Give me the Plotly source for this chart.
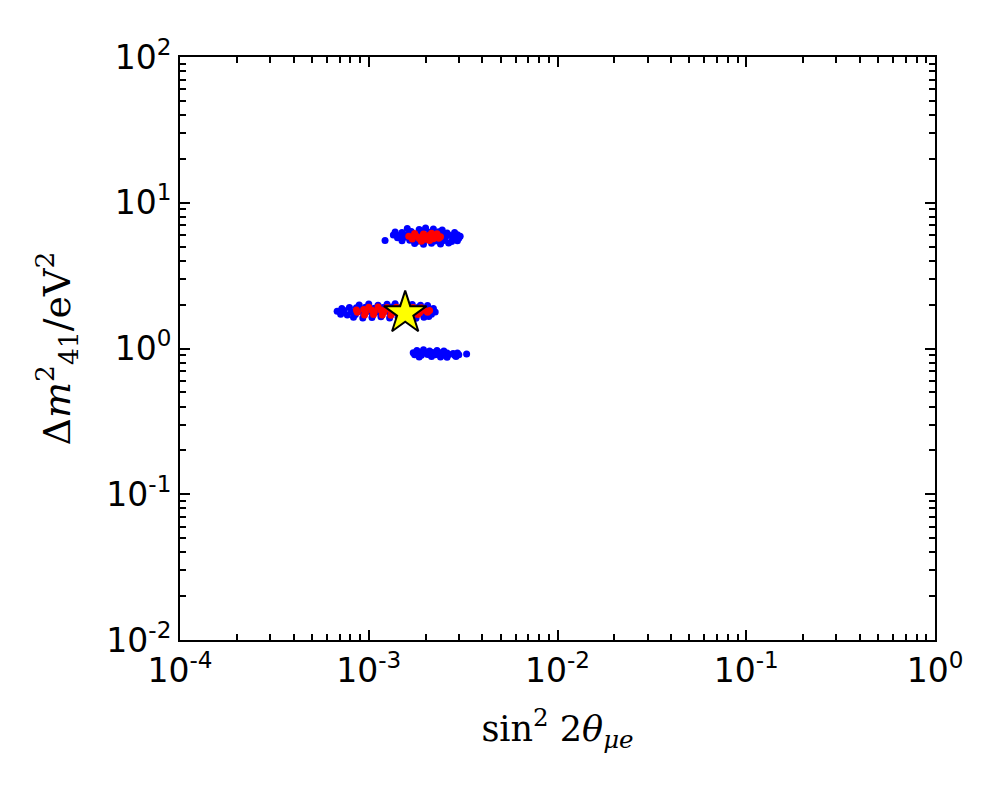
import plotly.graph_objects as go

# sin^2 2theta_mue / dm41^2 scan points
BLUE_X = [
    # band around 1.8 eV^2
    8.9e-4, 1.0e-3, 1.12e-3, 1.25e-3, 1.38e-3, 1.52e-3, 1.7e-3, 1.88e-3, 2.05e-3,
    7.2e-4, 7.9e-4, 8.6e-4, 9.6e-4, 1.07e-3, 1.19e-3, 1.33e-3, 1.47e-3, 1.64e-3, 1.83e-3, 2.02e-3, 2.2e-3,
    6.8e-4, 7.4e-4, 8.1e-4, 9.0e-4, 1.0e-3, 1.11e-3, 1.23e-3, 1.37e-3, 1.55e-3, 1.72e-3, 1.95e-3, 2.17e-3, 2.25e-3,
    7.1e-4, 7.7e-4, 8.5e-4, 9.4e-4, 1.05e-3, 1.17e-3, 1.3e-3, 1.45e-3, 1.61e-3, 1.79e-3, 1.98e-3, 2.15e-3,
    8.3e-4, 9.3e-4, 1.04e-3, 1.16e-3, 1.29e-3, 1.43e-3, 1.6e-3, 1.78e-3, 1.96e-3, 2.08e-3,
    # band around 5.8 eV^2
    1.6e-3, 1.85e-3, 2.0e-3, 2.2e-3, 2.45e-3,
    1.38e-3, 1.5e-3, 1.68e-3, 1.9e-3, 2.1e-3, 2.35e-3, 2.6e-3, 2.85e-3,
    1.35e-3, 1.45e-3, 1.6e-3, 1.78e-3, 2.0e-3, 2.2e-3, 2.45e-3, 2.7e-3, 2.95e-3, 3.05e-3,
    1.42e-3, 1.55e-3, 1.7e-3, 1.88e-3, 2.1e-3, 2.3e-3, 2.55e-3, 2.8e-3, 3.0e-3,
    1.22e-3, 1.5e-3, 1.65e-3, 1.82e-3, 2.0e-3, 2.25e-3, 2.5e-3, 2.75e-3, 2.95e-3,
    1.75e-3, 1.95e-3, 2.15e-3, 2.4e-3, 2.65e-3,
    # band around 0.9 eV^2
    1.8e-3, 1.95e-3, 2.1e-3, 2.3e-3, 2.5e-3,
    1.72e-3, 1.85e-3, 2.0e-3, 2.18e-3, 2.38e-3, 2.6e-3, 2.8e-3, 2.95e-3,
    1.75e-3, 1.9e-3, 2.05e-3, 2.25e-3, 2.45e-3, 2.65e-3, 2.85e-3, 3.0e-3, 3.3e-3,
    1.85e-3, 2.15e-3, 2.4e-3, 2.6e-3, 2.9e-3,
]
BLUE_Y = [
    1.99, 2.02, 1.98, 2.01, 2.03, 1.99, 2.00, 1.98, 1.97,
    1.88, 1.91, 1.90, 1.92, 1.89, 1.91, 1.93, 1.90, 1.89, 1.92, 1.90, 1.88,
    1.80, 1.82, 1.79, 1.81, 1.80, 1.78, 1.81, 1.79, 1.82, 1.80, 1.81, 1.79, 1.78,
    1.72, 1.70, 1.71, 1.73, 1.69, 1.71, 1.70, 1.72, 1.69, 1.71, 1.70, 1.72,
    1.64, 1.62, 1.63, 1.65, 1.62, 1.64, 1.63, 1.61, 1.64, 1.66,
    6.65, 6.55, 6.70, 6.60, 6.50,
    6.30, 6.25, 6.35, 6.40, 6.28, 6.32, 6.20, 6.25,
    6.00, 5.95, 6.05, 6.02, 5.98, 6.08, 6.00, 5.95, 6.02, 5.90,
    5.75, 5.80, 5.72, 5.78, 5.70, 5.76, 5.82, 5.74, 5.70,
    5.50, 5.48, 5.52, 5.45, 5.55, 5.47, 5.50, 5.42, 5.48,
    5.25, 5.20, 5.28, 5.22, 5.30,
    0.97, 0.98, 0.96, 0.97, 0.96,
    0.935, 0.94, 0.93, 0.94, 0.935, 0.93, 0.925, 0.93,
    0.905, 0.90, 0.91, 0.905, 0.90, 0.91, 0.90, 0.905, 0.915,
    0.875, 0.88, 0.875, 0.87, 0.88,
]

RED_X = [
    # around 1.8 eV^2
    1.0e-3, 1.12e-3, 1.25e-3, 1.4e-3, 1.56e-3, 1.72e-3, 1.9e-3,
    8.6e-4, 9.4e-4, 1.04e-3, 1.16e-3, 1.29e-3, 1.44e-3, 1.6e-3, 1.78e-3, 1.97e-3, 2.1e-3,
    8.7e-4, 9.6e-4, 1.07e-3, 1.2e-3, 1.34e-3, 1.5e-3, 1.68e-3, 1.86e-3, 2.05e-3,
    9.5e-4, 1.06e-3, 1.18e-3, 1.31e-3, 1.46e-3, 1.63e-3, 1.82e-3,
    # around 5.8 eV^2
    1.75e-3, 1.95e-3, 2.15e-3, 2.3e-3,
    1.63e-3, 1.78e-3, 1.92e-3, 2.08e-3, 2.25e-3, 2.4e-3,
    1.7e-3, 1.85e-3, 2.0e-3, 2.2e-3, 2.35e-3,
    1.9e-3, 2.1e-3,
]
RED_Y = [
    1.92, 1.93, 1.91, 1.92, 1.90, 1.91, 1.90,
    1.84, 1.85, 1.83, 1.84, 1.85, 1.83, 1.84, 1.85, 1.83, 1.82,
    1.77, 1.76, 1.78, 1.77, 1.76, 1.77, 1.78, 1.76, 1.77,
    1.70, 1.71, 1.70, 1.69, 1.71, 1.70, 1.71,
    6.15, 6.10, 6.18, 6.12,
    5.90, 5.92, 5.88, 5.95, 5.90, 5.85,
    5.65, 5.68, 5.62, 5.66, 5.70,
    5.45, 5.50,
]

BEST_FIT_X = [1.56e-3]
BEST_FIT_Y = [1.75]

X_TICKS = [1e-4, 1e-3, 1e-2, 1e-1, 1]
X_TICKTEXT = ["10<sup>-4</sup>", "10<sup>-3</sup>", "10<sup>-2</sup>", "10<sup>-1</sup>", "10<sup>0</sup>"]
Y_TICKS = [1e-2, 1e-1, 1, 10, 100]
Y_TICKTEXT = ["10<sup>-2</sup>", "10<sup>-1</sup>", "10<sup>0</sup>", "10<sup>1</sup>", "10<sup>2</sup>"]

TICK_FONT = dict(family="DejaVu Sans", size=33, color="black")
X_TITLE_FONT = dict(family="DejaVu Serif", size=35, color="black")
Y_TITLE_FONT = dict(family="DejaVu Serif", size=38, color="black")


def minor_ticks(decades, subs):
    return [m * 10 ** d for d in decades for m in subs]


WHOLE_SUBS = [2, 3, 4, 5, 6, 7, 8, 9]
HALF_SUBS = [1.5, 2.5, 3.5, 4.5, 5.5, 6.5, 7.5, 8.5, 9.5]

fig = go.Figure()

fig.add_trace(
    go.Scatter(
        x=BLUE_X, y=BLUE_Y, mode="markers",
        marker=dict(color="blue", size=7, line=dict(width=0)),
    )
)
fig.add_trace(
    go.Scatter(
        x=RED_X, y=RED_Y, mode="markers",
        marker=dict(color="red", size=7, line=dict(width=0)),
    )
)
fig.add_trace(
    go.Scatter(
        x=BEST_FIT_X, y=BEST_FIT_Y, mode="markers",
        marker=dict(symbol="star", color="yellow", size=32, line=dict(color="black", width=2)),
    )
)

axis_style = dict(
    type="log",
    showgrid=False,
    zeroline=False,
    showline=True,
    linewidth=2,
    linecolor="black",
    mirror="ticks",
    ticks="inside",
    ticklen=10,
    tickwidth=2,
    tickcolor="black",
    tickfont=TICK_FONT,
)

fig.update_xaxes(
    **axis_style,
    range=[-4, 0],
    tickvals=X_TICKS,
    ticktext=X_TICKTEXT,
    minor=dict(ticks="inside", ticklen=6, tickwidth=1.5, tickcolor="black",
               tickvals=minor_ticks(range(-4, 0), WHOLE_SUBS)),
    title=dict(text="sin<sup>2</sup> 2<i>θ</i><sub><i>μe</i></sub>", font=X_TITLE_FONT, standoff=28),
)
fig.update_yaxes(
    **axis_style,
    range=[-2, 2],
    tickvals=Y_TICKS,
    ticktext=Y_TICKTEXT,
    minor=dict(ticks="inside", ticklen=6, tickwidth=1.5, tickcolor="black",
               tickvals=minor_ticks(range(-2, 2), WHOLE_SUBS)),
    title=dict(text="Δ<i>m</i><sup>2</sup><sub>41</sub>/eV<sup>2</sup>", font=Y_TITLE_FONT, standoff=24),
)

# extra short ticks half way between the minor ones
half_tick_style = dict(
    type="log", showgrid=False, zeroline=False, showline=False, showticklabels=False,
    mirror="ticks", ticks="inside", ticklen=3, tickwidth=1.5, tickcolor="black",
)

fig.update_layout(
    xaxis2=dict(**half_tick_style, overlaying="x", side="bottom", range=[-4, 0],
                tickvals=minor_ticks(range(-4, 0), HALF_SUBS)),
    yaxis2=dict(**half_tick_style, overlaying="y", side="left", range=[-2, 2],
                tickvals=minor_ticks(range(-2, 2), HALF_SUBS)),
)

fig.update_layout(
    width=1000,
    height=800,
    showlegend=False,
    plot_bgcolor="white",
    paper_bgcolor="white",
    margin=dict(l=172, r=73, t=49, b=168),
)

fig.write_html("out.html")
